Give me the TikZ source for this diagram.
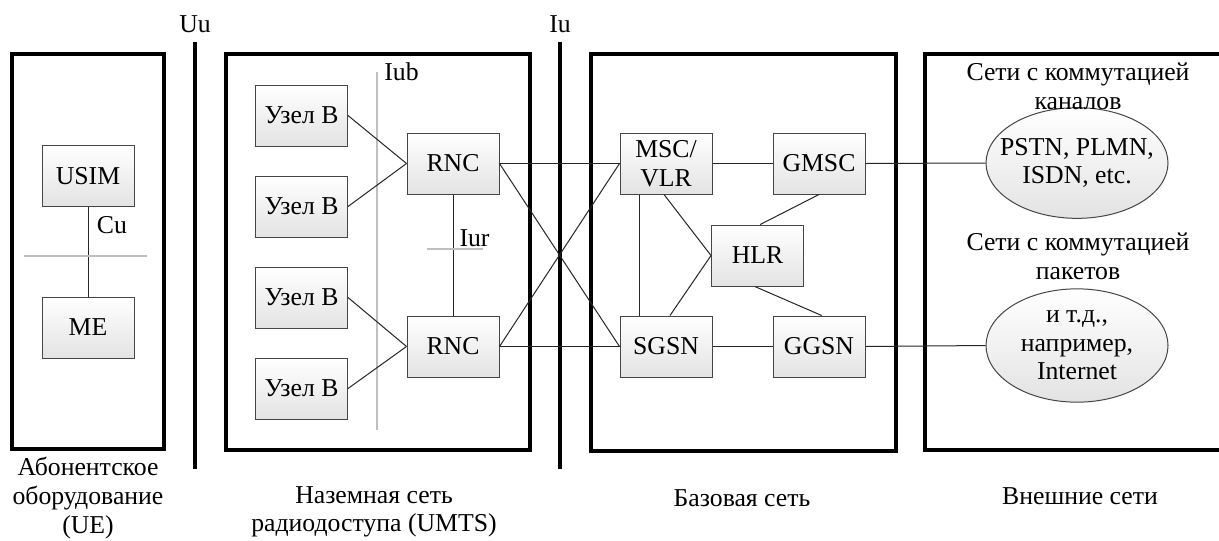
\documentclass[tikz,border=0pt]{standalone}
\usepackage{fontspec}
\setmainfont{Liberation Serif}
\usetikzlibrary{shapes.geometric}
\tikzset{
  txt/.style={font=\fontsize{19.3pt}{21.5pt}\selectfont, inner sep=0pt, align=center},
  box/.style={txt, draw=gray!55!black, line width=0.75pt, top color=white, bottom color=gray!22,
              minimum width=69pt, minimum height=45.75pt},
  oval/.style={ellipse, draw=gray!55!black, line width=0.75pt, top color=white, bottom color=gray!22,
              inner sep=0pt, minimum width=136.5pt, minimum height=83pt},
  region/.style={draw=black, line width=2.5pt},
  iface/.style={draw=black, line width=2.6pt},
  refpt/.style={draw=gray!50, line width=1.3pt},
  link/.style={draw=black!85, line width=0.75pt},
}
\begin{document}
\begin{tikzpicture}[x=0.75pt, y=-0.75pt]
\clip (0,0) rectangle (1219,540);
\fill[white] (0,0) rectangle (1219,540);

% regions
\draw[region] (12,54) rectangle (164,449);
\draw[region] (226,54) rectangle (530,450);
\draw[region] (591,54) rectangle (896,451);
\draw[region] (925,54) rectangle (1240,450);

% interface lines
\coordinate (uuT) at (195,42); \coordinate (uuB) at (195,469);
\coordinate (iuT) at (560,42); \coordinate (iuB) at (560,469);
\draw[iface] (uuT) -- (uuB);
\draw[iface] (iuT) -- (iuB);
\node[txt] (uu) at (195,24) {Uu};
\node[txt] (iu) at (560,24) {Iu};

% reference points (gray)
\coordinate (iubT) at (377,72); \coordinate (iubB) at (377,430);
\draw[refpt] (iubT) -- (iubB);
\node[txt] (iub) at (401.5,72) {Iub};
\coordinate (cuL) at (24,256); \coordinate (cuR) at (147,256);
\coordinate (iurL) at (427,249); \coordinate (iurR) at (483,249);

% UE
\node[box] (usim) at (88,176) {USIM};
\node[box] (me) at (88,327.5) {ME};
\draw[link] (usim) -- (me);
\draw[refpt] (cuL) -- (cuR);
\node[txt] (cu) at (112,225) {Cu};

% RAN
\node[box] (nb1) at (301.5,115.5) {Узел B};
\node[box] (nb2) at (301.5,206.5) {Узел B};
\node[box] (nb3) at (301.5,297.5) {Узел B};
\node[box] (nb4) at (301.5,388.5) {Узел B};
\node[box] (rnc1) at (453,163.5) {RNC};
\node[box] (rnc2) at (453,346.5) {RNC};
\draw[link] (nb1.east) -- (rnc1.west);
\draw[link] (nb2.east) -- (rnc1.west);
\draw[link] (nb3.east) -- (rnc2.west);
\draw[link] (nb4.east) -- (rnc2.west);
\draw[link] (rnc1) -- (rnc2);
\draw[refpt] (iurL) -- (iurR);
\node[txt] (iur) at (474.5,238) {Iur};

% Core
\node[box] (msc) at (666,163.5) {MSC/\\VLR};
\node[box] (gmsc) at (819,163.5) {GMSC};
\node[box] (hlr) at (757.5,255.5) {HLR};
\node[box] (sgsn) at (666,346.5) {SGSN};
\node[box] (ggsn) at (819,346.5) {GGSN};

\draw[link] (rnc1.east) -- (msc.west);
\draw[link] (rnc1.east) -- (sgsn.west);
\draw[link] (rnc2.east) -- (msc.west);
\draw[link] (rnc2.east) -- (sgsn.west);

\draw[link] (msc) -- (gmsc);
\draw[link] (sgsn) -- (ggsn);
\draw[link] ([xshift=-20pt]msc.south) -- ([xshift=-20pt]sgsn.north);
\draw[link] ([xshift=-1.5pt]msc.south) -- (hlr.west);
\draw[link] ([xshift=3pt]sgsn.north) -- (hlr.west);
\draw[link] (gmsc.south) -- ([xshift=2pt]hlr.north);
\draw[link] ([xshift=-2pt]hlr.south) -- ([xshift=2pt]ggsn.north);

% External
\node[oval] (pstn) at (1077,163) {};
\node[txt] (pstnT) at (pstn.center) {PSTN, PLMN,\\ISDN, etc.};
\node[oval, minimum height=85pt] (inet) at (1077,345.5) {};
\node[txt] (inetT) at (inet.center) {и т.д.,\\например,\\Internet};
\draw[link] (gmsc.east) -- (pstn.west);
\draw[link] (ggsn.east) -- (inet.west);
\node[txt] (cs) at (1078,86) {Сети с коммутацией\\каналов};
\node[txt] (ps) at (1078,256) {Сети с коммутацией\\пакетов};

% bottom captions
\node[txt] (ueL) at (88,498) {Абонентское\\оборудование\\(UE)};
\node[txt] (ranL) at (374,512) {Наземная сеть\\радиодоступа (UMTS)};
\node[txt] (cnL) at (742,498) {Базовая сеть};
\node[txt] (exL) at (1080,496) {Внешние сети};
\end{tikzpicture}
\end{document}
